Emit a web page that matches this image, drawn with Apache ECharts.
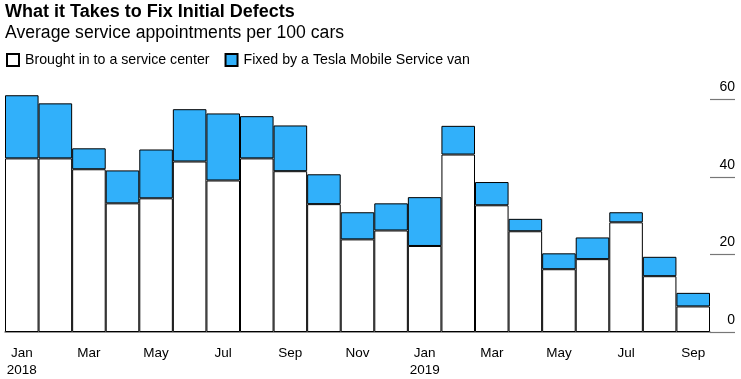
<!DOCTYPE html>
<html>
<head>
<meta charset="utf-8">
<script src="https://cdn.jsdelivr.net/npm/echarts@6/dist/echarts.min.js"></script>
<style>html,body{margin:0;padding:0;background:#fff}#c{width:741px;height:379px}</style>
</head>
<body>
<div id="c"></div>
<script>
const months = ['Jan','Feb','Mar','Apr','May','Jun','Jul','Aug','Sep','Oct','Nov','Dec',
                'Jan','Feb','Mar','Apr','May','Jun','Jul','Aug','Sep'];
const years = ['2018','','','','','','','','','','','','2019','','','','','','','',''];
const serviceCenter = [44.8,44.8,42.0,33.2,34.5,44.0,39.1,44.8,41.5,33.0,23.9,26.2,22.2,45.8,32.7,26.0,16.2,18.8,28.3,14.4,6.6];
const totals = [61.1,59.0,47.4,41.7,47.1,57.5,56.4,55.7,53.3,40.7,30.9,33.2,34.8,53.2,38.7,29.2,20.3,24.4,30.9,19.4,10.1];
const mobileVan = totals.map((t,i)=>Math.round((t-serviceCenter[i])*10)/10);
const yTicks = [0,20,40,60];

const font = 'Liberation Sans, Arial, sans-serif';
const chart = echarts.init(document.getElementById('c'));
chart.setOption({
  animation:false,
  title:{
    text:'What it Takes to Fix Initial Defects',
    subtext:'Average service appointments per 100 cars',
    left:0, top:-2, itemGap:3,
    textStyle:{fontFamily:font,fontSize:18,fontWeight:'bold',color:'#000'},
    subtextStyle:{fontFamily:font,fontSize:17.6,color:'#000'}
  },
  legend:{
    left:6, top:53, padding:0, itemWidth:12, itemHeight:12, itemGap:15, icon:'rect',
    textStyle:{fontFamily:font,fontSize:14.2,color:'#000',padding:[0,0,0,1]},
    data:['Brought in to a service center','Fixed by a Tesla Mobile Service van']
  },
  grid:{left:5,right:31,top:99.5,bottom:47},
  xAxis:{
    type:'category', data:months,
    axisLine:{lineStyle:{color:'#777',width:1.5}},
    axisTick:{alignWithLabel:true,length:6,lineStyle:{color:'#555'},interval:(i)=>i%2===0},
    axisLabel:{
      interval:0, margin:13, fontFamily:font, fontSize:13.5, color:'#000', lineHeight:17,
      formatter:(v,i)=> i%2===0 ? (years[i] ? v+'\n'+years[i] : v) : ''
    }
  },
  yAxis:{
    type:'value', position:'right', min:0, max:60, interval:20,
    splitLine:{show:false},
    axisLine:{show:false},
    axisTick:{show:true,length:25,lineStyle:{color:'#777',width:1.2}},
    axisLabel:{
      align:'right', margin:25, verticalAlign:'bottom', padding:[0,0,5,0],
      fontFamily:font, fontSize:14, color:'#000',
      formatter:(v)=> yTicks.includes(v) ? String(v) : ''
    }
  },
  series:[
    {name:'Brought in to a service center',type:'bar',stack:'a',data:serviceCenter,
     barCategoryGap:'0%',clip:false,
     itemStyle:{color:'#ffffff',borderColor:'#000',borderWidth:1}},
    {name:'Fixed by a Tesla Mobile Service van',type:'bar',stack:'a',data:mobileVan,
     barCategoryGap:'0%',clip:false,
     itemStyle:{color:'#31b0fa',borderColor:'#000',borderWidth:1}}
  ]
});
</script>
</body>
</html>
